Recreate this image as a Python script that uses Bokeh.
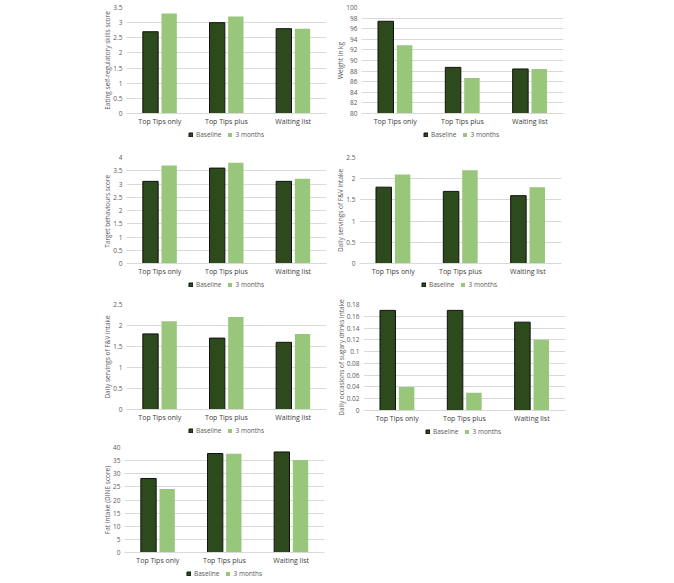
from bokeh.plotting import figure
from bokeh.models import FactorRange, FixedTicker, Legend, LegendItem, ColumnDataSource, Range1d
from bokeh.layouts import column, row, Spacer
from bokeh.transform import dodge
from bokeh.embed import file_html
from bokeh.resources import INLINE

categories = ["Top Tips only", "Top Tips plus", "Waiting list"]
series_names = ["Baseline", "3 months"]

# Panel 1: eating self-regulatory skills
p1_label = "Eating self-regulatory skills score"
p1_base = [2.7, 3.0, 2.8]
p1_m3 = [3.3, 3.2, 2.8]
p1_ticks = ["0", "0.5", "1", "1.5", "2", "2.5", "3", "3.5"]

# Panel 2: weight
p2_label = "Weight in kg"
p2_base = [97.4, 88.7, 88.4]
p2_m3 = [92.9, 86.7, 88.4]
p2_ticks = ["80", "82", "84", "86", "88", "90", "92", "94", "96", "98", "100"]

# Panel 3: target behaviours
p3_label = "Target  behaviours score"
p3_base = [3.1, 3.6, 3.1]
p3_m3 = [3.7, 3.8, 3.2]
p3_ticks = ["0", "0.5", "1", "1.5", "2", "2.5", "3", "3.5", "4"]

# Panel 4: F&V
p4_label = "Daily servings of F&V intake"
p4_base = [1.8, 1.7, 1.6]
p4_m3 = [2.1, 2.2, 1.8]
p4_ticks = ["0", "0.5", "1", "1.5", "2", "2.5"]

# Panel 5: F&V (repeat)
p5_label = "Daily servings of F&V intake"
p5_base = [1.8, 1.7, 1.6]
p5_m3 = [2.1, 2.2, 1.8]
p5_ticks = ["0", "0.5", "1", "1.5", "2", "2.5"]

# Panel 6: sugary drinks
p6_label = "Daily occasions of sugary drinks intake"
p6_base = [0.17, 0.17, 0.15]
p6_m3 = [0.04, 0.03, 0.12]
p6_ticks = ["0", "0.02", "0.04", "0.06", "0.08", "0.1", "0.12", "0.14", "0.16", "0.18"]

# Panel 7: fat intake
p7_label = "Fat intake (DINE score)"
p7_base = [28.2, 37.7, 38.3]
p7_m3 = [24.2, 37.6, 35.2]
p7_ticks = ["0", "5", "10", "15", "20", "25", "30", "35", "40"]

DARK = "#2c4a1c"
LIGHT = "#98c67b"
FONT = "Open Sans"
LEFT = 24
RIGHT = 7
NAN = float("nan")


def make_legend_fig(fw, height):
    lf = figure(frame_width=fw, frame_height=height, x_range=Range1d(0, 1),
                y_range=Range1d(0, 1), output_backend="svg", toolbar_location=None,
                min_border_left=LEFT, min_border_right=RIGHT, min_border_top=0,
                min_border_bottom=0)
    lf.axis.visible = False
    lf.grid.visible = False
    lf.outline_line_color = None
    # legend swatches only: glyphs with no drawable data
    r1 = lf.vbar(x=[NAN], top=[NAN], width=0.1, fill_color=DARK, line_color="#111111")
    r2 = lf.vbar(x=[NAN], top=[NAN], width=0.1, fill_color=LIGHT, line_color=None)
    legend = Legend(items=[LegendItem(label=series_names[0], renderers=[r1]),
                           LegendItem(label=series_names[1], renderers=[r2])],
                    orientation="horizontal", location=(62, 3),
                    label_text_font_size="6.5px", label_text_color="#595959",
                    label_text_font=FONT, glyph_width=5, glyph_height=5,
                    label_standoff=3, spacing=6, padding=0, margin=0,
                    border_line_color=None, background_fill_alpha=0,
                    label_height=8)
    lf.add_layout(legend, "center")
    return lf


def make_panel(ylabel, base, m3, tick_labels, fw, fh, top):
    tick_vals = [float(t) for t in tick_labels]
    ymin, ymax = tick_vals[0], tick_vals[-1]
    src = ColumnDataSource(dict(cat=categories, base=base, m3=m3,
                                bottom=[ymin] * len(categories)))
    p = figure(x_range=FactorRange(*categories, range_padding=0),
               y_range=Range1d(ymin, ymax),
               frame_width=fw, frame_height=fh, output_backend="svg",
               toolbar_location=None, min_border_left=LEFT,
               min_border_right=RIGHT, min_border_top=top, min_border_bottom=14)
    p.vbar(x=dodge("cat", -0.14, range=p.x_range), top="base", bottom="bottom",
           width=0.23, source=src, fill_color=DARK, line_color="#111111", line_width=1)
    p.vbar(x=dodge("cat", 0.14, range=p.x_range), top="m3", bottom="bottom",
           width=0.23, source=src, fill_color=LIGHT, line_color=None)
    p.yaxis.ticker = FixedTicker(ticks=tick_vals)
    p.yaxis.major_label_overrides = {v: t for v, t in zip(tick_vals, tick_labels)}
    p.yaxis.axis_line_color = None
    p.yaxis.major_tick_line_color = None
    p.yaxis.minor_tick_line_color = None
    p.yaxis.major_tick_out = 0
    p.yaxis.major_tick_in = 0
    p.yaxis.major_label_text_font_size = "6.5px"
    p.yaxis.major_label_text_color = "#595959"
    p.yaxis.major_label_text_font = FONT
    p.yaxis.axis_label = ylabel
    p.yaxis.axis_label_text_font_size = "6.5px"
    p.yaxis.axis_label_text_font_style = "normal"
    p.yaxis.axis_label_text_color = "#595959"
    p.yaxis.axis_label_text_font = FONT
    p.yaxis.axis_label_standoff = -2
    p.yaxis.major_label_standoff = 4
    p.xaxis.axis_line_color = "#d9d9d9"
    p.xaxis.major_tick_line_color = None
    p.xaxis.minor_tick_line_color = None
    p.xaxis.major_tick_out = 0
    p.xaxis.major_tick_in = 0
    p.xaxis.major_label_text_font_size = "7px"
    p.xaxis.major_label_text_color = "#404040"
    p.xaxis.major_label_text_font = FONT
    p.xaxis.major_label_standoff = 3
    p.xgrid.grid_line_color = None
    p.ygrid.grid_line_color = "#d9d9d9"
    p.ygrid.grid_line_width = 1
    p.outline_line_color = None
    return column(p, make_legend_fig(fw, 14), spacing=0)


f1 = make_panel(p1_label, p1_base, p1_m3, p1_ticks, 200, 106, 7)
f2 = make_panel(p2_label, p2_base, p2_m3, p2_ticks, 202, 106, 7)
f3 = make_panel(p3_label, p3_base, p3_m3, p3_ticks, 200, 106, 15)
f4 = make_panel(p4_label, p4_base, p4_m3, p4_ticks, 202, 106, 15)
f5 = make_panel(p5_label, p5_base, p5_m3, p5_ticks, 200, 105, 12)
f6 = make_panel(p6_label, p6_base, p6_m3, p6_ticks, 202, 106, 12)
f7 = make_panel(p7_label, p7_base, p7_m3, p7_ticks, 200, 105, 8)

layout = column(
    row(Spacer(width=100), f1, f2, spacing=0),
    row(Spacer(width=100), f3, f4, spacing=0),
    row(Spacer(width=100), f5, f6, spacing=0),
    row(Spacer(width=100), f7, spacing=0),
    spacing=0,
)

open("out.html", "w").write(file_html(layout, INLINE))
